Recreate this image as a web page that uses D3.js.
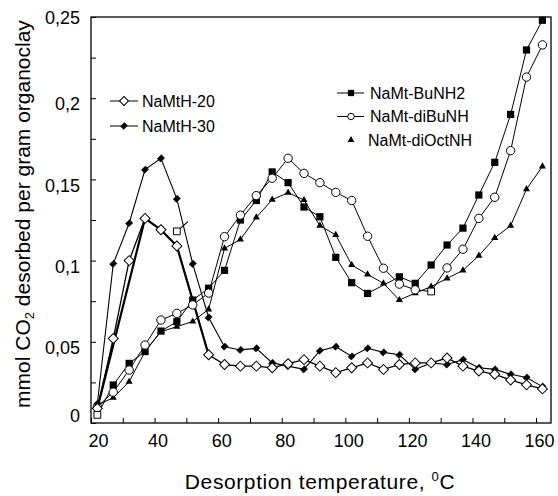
<!DOCTYPE html>
<html>
<head>
<meta charset="utf-8">
<script src="https://cdn.jsdelivr.net/npm/d3@7"></script>
<style>
  html, body { margin: 0; padding: 0; background: #fff; }
  svg { display: block; font-family: "Liberation Sans", Arial, sans-serif; }
</style>
</head>
<body>
<svg id="chart" width="558" height="496"></svg>
<script>
// ---------- data ----------
const temps = [22,27,32,37,42,47,52,57,62,67,72,77,82,87,92,97,102,107,112,117,122,127,132,137,142,147,152,157,162];

const namth20   = [0.009,0.052,0.100,0.126,0.119,0.109,null,0.042,0.036,0.035,0.035,0.034,0.0365,0.039,0.035,0.031,0.034,0.037,0.033,0.036,0.037,0.037,0.040,0.035,0.032,0.030,0.0265,0.0235,0.021];
const namth30   = [0.012,0.098,0.123,0.156,0.163,0.138,0.098,0.065,0.047,0.045,0.046,0.037,0.035,0.033,0.0445,0.047,0.041,0.046,0.0435,0.042,0.033,0.037,0.036,0.039,0.034,0.033,0.030,0.028,0.0224];
const bunh2     = [0.005,0.0234,0.0367,0.044,0.0566,0.0624,0.0757,0.083,0.094,0.125,0.137,0.1546,0.148,0.133,0.127,0.102,0.0864,0.0798,null,0.090,0.086,0.0973,0.1096,0.120,0.1404,0.1605,0.190,0.2297,0.248];
const dibunh    = [0.010,0.019,0.0326,0.048,0.0634,0.0675,0.0727,0.080,0.1147,0.128,0.140,0.1507,0.163,0.1537,0.148,0.142,0.137,0.115,0.0953,0.0855,0.082,0.081,0.0955,0.107,0.126,0.139,0.1677,0.213,0.2328];
const dioctnh   = [0.011,0.0156,0.0254,0.044,0.0562,0.0593,0.0625,0.070,0.1075,0.113,0.1266,0.1375,0.1418,0.1373,0.1215,0.1158,0.0973,0.0915,0.086,0.0757,0.080,0.084,0.089,0.094,0.103,0.114,0.1215,0.144,0.158];

// stray marks visible in the original figure
const boldTraceT = [22,37,42,47,57];
const boldTraceV = [0.009,0.126,0.119,0.109,0.042];
const strayT = [47,50.5];
const strayV = [0.118,0.124];
const openSquareT = [22,47,127];
const openSquareV = [0.005,0.118,0.081];

const seriesNames = ["NaMtH-20","NaMtH-30","NaMt-BuNH2","NaMt-diBuNH","NaMt-diOctNH"];

const xTickValues = [20,30,40,50,60,70,80,90,100,110,120,130,140,150,160];
const xTickLabels = ["20","","40","","60","","80","","100","","120","","140","","160"];
const yTickValues = [0,0.025,0.05,0.075,0.1,0.125,0.15,0.175,0.2,0.225,0.25];
const yTickLabels = ["0","","0,05","","0,1","","0,15","","0,2","","0,25"];

// ---------- layout ----------
const L = 91, R = 551, T = 17, B = 423;
const svg = d3.select("#chart");
const x = d3.scaleLinear().domain([20, 164.7]).range([L, R]);
const y = d3.scaleLinear().domain([0, 0.25]).range([B, T]);

svg.append("rect").attr("width",558).attr("height",496).attr("fill","#fff");

// axes
const xAxis = d3.axisBottom(x).tickValues(xTickValues).tickSize(-5).tickPadding(11)
  .tickFormat((d,i) => xTickLabels[i]);
const gx = svg.append("g").attr("transform", `translate(0,${B})`).call(xAxis);
gx.select(".domain").remove();
gx.selectAll("line").attr("stroke","#000").attr("stroke-width",1);
gx.selectAll("text").attr("font-size",18).attr("fill","#000")
  .attr("font-family","'Liberation Sans', Arial, sans-serif")
  .attr("dx", d => d === 20 ? 7 : 3);

const yAxis = d3.axisLeft(y).tickValues(yTickValues).tickSize(-5).tickPadding(11)
  .tickFormat((d,i) => yTickLabels[i]);
const gy = svg.append("g").attr("transform", `translate(${L},0)`).call(yAxis);
gy.select(".domain").remove();
gy.selectAll("line").attr("stroke","#000").attr("stroke-width",1);
gy.selectAll("text").attr("font-size",18).attr("fill","#000")
  .attr("font-family","'Liberation Sans', Arial, sans-serif")
  .attr("dy", d => d === 0 ? "-0.1em" : (d === 0.25 ? "0.35em" : "0.65em"));

// frame
svg.append("rect").attr("x",L).attr("y",T).attr("width",R-L).attr("height",B-T)
  .attr("fill","none").attr("stroke","#000").attr("stroke-width",1.3);

// ---------- markers ----------
const sq = d3.symbol().type(d3.symbolSquare);
const markers = {
  openDiamond:   g => g.append("path").attr("d", sq.size(50)()).attr("transform", g.attr("data-rot") || null),
};
function drawMarker(g, kind, cx, cy, scale) {
  scale = scale || 1;
  let p;
  if (kind === "openDiamond") {
    p = g.append("path").attr("d", d3.symbol().type(d3.symbolSquare).size(50*scale)())
      .attr("transform", `translate(${cx},${cy}) rotate(45)`)
      .attr("fill","#fff").attr("stroke","#000").attr("stroke-width",1);
  } else if (kind === "filledDiamond") {
    p = g.append("path").attr("d", d3.symbol().type(d3.symbolSquare).size(26*scale)())
      .attr("transform", `translate(${cx},${cy}) rotate(45) scale(0.9,1.1)`)
      .attr("fill","#000").attr("stroke","#000").attr("stroke-width",0.6);
  } else if (kind === "filledSquare") {
    p = g.append("path").attr("d", d3.symbol().type(d3.symbolSquare).size(52*scale)())
      .attr("transform", `translate(${cx},${cy})`).attr("fill","#000");
  } else if (kind === "openSquare") {
    p = g.append("path").attr("d", d3.symbol().type(d3.symbolSquare).size(46*scale)())
      .attr("transform", `translate(${cx},${cy})`).attr("fill","#fff")
      .attr("stroke","#000").attr("stroke-width",1);
  } else if (kind === "openCircle") {
    p = g.append("path").attr("d", d3.symbol().type(d3.symbolCircle).size(55*scale)())
      .attr("transform", `translate(${cx},${cy})`).attr("fill","#fff")
      .attr("stroke","#000").attr("stroke-width",1);
  } else if (kind === "filledTriangle") {
    p = g.append("path").attr("d", d3.symbol().type(d3.symbolTriangle).size(22*scale)())
      .attr("transform", `translate(${cx},${cy})`).attr("fill","#000");
  }
  return p;
}

const line = d3.line().x(d => x(d[0])).y(d => y(d[1]));
const plot = svg.append("g");

function pairs(ts, vs) {
  return ts.map((t,i) => [t, vs[i]]).filter(d => d[1] !== null);
}

const series = [
  {vals: dioctnh, kind: "filledTriangle", w: 1},
  {vals: bunh2,   kind: "filledSquare",   w: 1},
  {vals: dibunh,  kind: "openCircle",     w: 1},
  {vals: namth30, kind: "filledDiamond",  w: 1.1},
  {vals: namth20, kind: "openDiamond",    w: 1.3},
];

// lines
series.forEach(s => {
  plot.append("path").attr("d", line(pairs(temps, s.vals)))
    .attr("fill","none").attr("stroke","#000").attr("stroke-width", s.w);
});
plot.append("path").attr("d", line(pairs(boldTraceT, boldTraceV)))
  .attr("fill","none").attr("stroke","#000").attr("stroke-width", 2.2);
plot.append("path").attr("d", line(pairs(strayT, strayV)))
  .attr("fill","none").attr("stroke","#000").attr("stroke-width", 1.2);

// markers
series.forEach(s => {
  const g = plot.append("g");
  pairs(temps, s.vals).forEach(d => {
    const isOpenSq = openSquareT.some((t,i) => t === d[0] && Math.abs(openSquareV[i]-d[1]) < 1e-6);
    if (!isOpenSq) drawMarker(g, s.kind, x(d[0]), y(d[1]));
  });
});
const gs = plot.append("g");
pairs(openSquareT, openSquareV).forEach(d => drawMarker(gs, "openSquare", x(d[0]), y(d[1])));

// ---------- legends ----------
const lg = svg.append("g").attr("font-size",16).attr("fill","#000");
const legendItems = [
  {name: seriesNames[0], kind: "openDiamond",   lx1: 110, lx2: 138, mx: 124, ly: 101, tx: 142, scale: 0.8},
  {name: seriesNames[1], kind: "filledDiamond", lx1: 110, lx2: 138, mx: 124, ly: 126, tx: 142, scale: 0.9},
  {name: seriesNames[2], kind: "filledSquare",  lx1: 337, lx2: 364, mx: 351, ly: 93,  tx: 370, scale: 0.75},
  {name: seriesNames[3], kind: "openCircle",    lx1: 337, lx2: 364, mx: 351, ly: 116.5, tx: 370, scale: 0.6},
  {name: seriesNames[4], kind: "filledTriangle",lx1: null, lx2: null, mx: 351, ly: 140, tx: 368, scale: 0.9},
];
legendItems.forEach(it => {
  if (it.lx1 !== null) {
    lg.append("line").attr("x1", it.lx1).attr("x2", it.lx2).attr("y1", it.ly).attr("y2", it.ly)
      .attr("stroke","#000").attr("stroke-width",1);
  }
  drawMarker(lg, it.kind, it.mx, it.ly, it.scale);
  lg.append("text").attr("x", it.tx).attr("y", it.ly).attr("dy","0.36em").text(it.name);
});

// ---------- axis titles ----------
const xt = svg.append("text").attr("x", 320).attr("y", 489).attr("text-anchor","middle")
  .attr("font-size", 21).attr("letter-spacing", "0.6px").attr("fill","#000");
xt.append("tspan").text("Desorption temperature, ");
xt.append("tspan").attr("font-size", 13).attr("dy", "-8").text("0");
xt.append("tspan").attr("dy", "8").text("C");

const yt = svg.append("text").attr("transform", "translate(30,214) rotate(-90)")
  .attr("text-anchor","middle").attr("font-size", 21).attr("fill","#000");
yt.append("tspan").text("mmol CO");
yt.append("tspan").attr("font-size", 13).attr("dy", "4").text("2");
yt.append("tspan").attr("dy", "-4").text(" desorbed per gram organoclay");
</script>
</body>
</html>
